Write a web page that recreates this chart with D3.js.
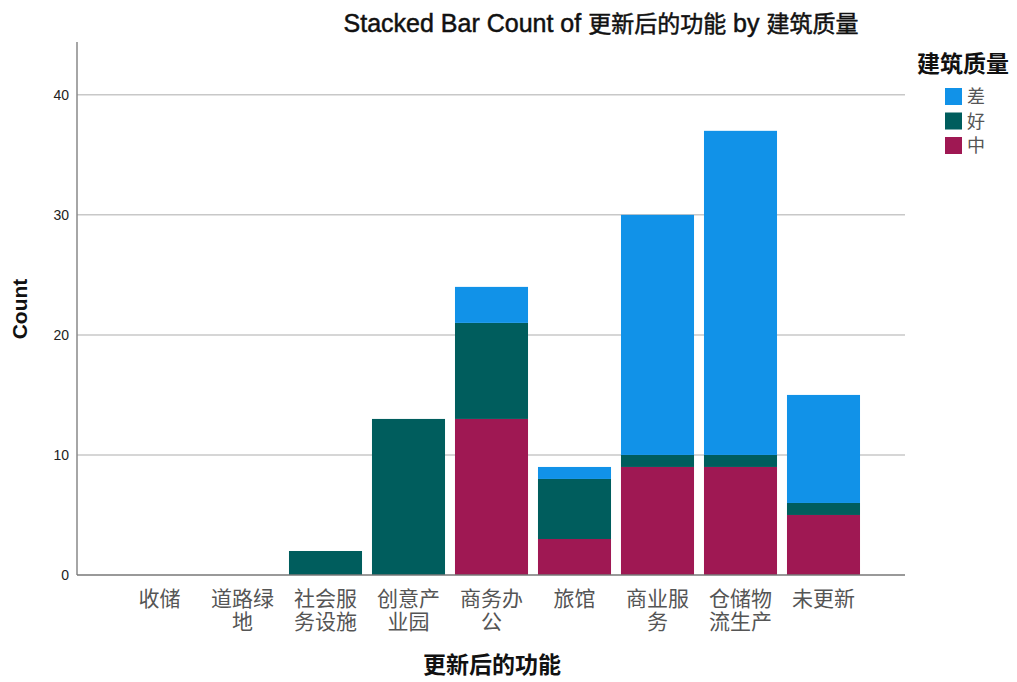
<!DOCTYPE html>
<html>
<head>
<meta charset="utf-8">
<script src="https://cdn.jsdelivr.net/npm/d3@7"></script>
<style>
  body { margin: 0; background: #fff; }
  text { font-family: "Liberation Sans", Arial, "Noto Sans CJK SC", sans-serif; }
</style>
</head>
<body>
<div id="chart"></div>
<script>
// dimensions
const width = 1017;
const height = 682;

// données
const categories = ["收储", "道路绿地", "社会服务设施", "创意产业园", "商务办公", "旅馆", "商业服务", "仓储物流生产", "未更新"];
const catLines = [["收储"], ["道路绿", "地"], ["社会服", "务设施"], ["创意产", "业园"], ["商务办", "公"], ["旅馆"], ["商业服", "务"], ["仓储物", "流生产"], ["未更新"]];
const qualities = ["中", "好", "差"];        // ordre d'empilement (bas -> haut)
const legendOrder = ["差", "好", "中"];
const colors = ["#9f1853", "#005d5d", "#1192e8"];
const countZhong = [0, 0, 0, 0, 13, 3, 9, 9, 5];
const countHao   = [0, 0, 2, 13, 8, 5, 1, 1, 1];
const countCha   = [0, 0, 0, 0, 3, 1, 20, 27, 9];
const yTicks = [0, 10, 20, 30, 40];

const table = categories.map((c, i) => ({ cat: c, "中": countZhong[i], "好": countHao[i], "差": countCha[i] }));

const margin = { left: 77, right: 905, top: 42, bottom: 575 };

const svg = d3.select("#chart").append("svg")
    .attr("width", width)
    .attr("height", height);

const x = d3.scaleBand()
    .domain(categories)
    .range([118, 865])
    .paddingInner(0.12)
    .paddingOuter(0.06);

const y = d3.scaleLinear()
    .domain([0, 44.4])
    .range([margin.bottom, margin.top]);

const color = d3.scaleOrdinal().domain(qualities).range(colors);

// grille
svg.append("g")
    .selectAll("line")
    .data(yTicks.filter(d => d > 0))
    .join("line")
    .attr("x1", margin.left).attr("x2", margin.right)
    .attr("y1", d => y(d)).attr("y2", d => y(d))
    .attr("stroke", "#c8c8c8")
    .attr("stroke-width", 1.5);

// barres empilées
const series = d3.stack().keys(qualities)(table);

svg.append("g")
    .selectAll("g")
    .data(series)
    .join("g")
    .attr("fill", d => color(d.key))
    .selectAll("rect")
    .data(d => d.filter(s => s[1] - s[0] > 0))
    .join("rect")
    .attr("x", d => x(d.data.cat))
    .attr("width", x.bandwidth())
    .attr("y", d => y(d[1]))
    .attr("height", d => y(d[0]) - y(d[1]));

// axe Y
const yAxis = svg.append("g")
    .attr("transform", `translate(${margin.left},0)`)
    .call(d3.axisLeft(y).tickValues(yTicks).tickSize(0).tickPadding(8));
yAxis.select(".domain").attr("stroke", "#888").attr("stroke-width", 1.5)
    .attr("d", `M0,${margin.top}V${margin.bottom}`);
yAxis.selectAll("text").attr("font-size", 14).attr("fill", "#222");

// axe X
svg.append("line")
    .attr("x1", margin.left).attr("x2", margin.right)
    .attr("y1", margin.bottom).attr("y2", margin.bottom)
    .attr("stroke", "#777").attr("stroke-width", 1.5);

// étiquettes des catégories, une ligne = un texte
const labelRows = categories.flatMap((c, i) => catLines[i].map((t, j) => ({ cat: c, text: t, row: j })));

svg.append("g")
    .selectAll("text")
    .data(labelRows)
    .join("text")
    .attr("x", d => x(d.cat) + x.bandwidth() / 2)
    .attr("y", d => 606 + d.row * 23)
    .attr("text-anchor", "middle")
    .attr("font-size", 21)
    .attr("fill", "#555")
    .style("font-family", "'Noto Sans CJK SC', sans-serif")
    .text(d => d.text);

// titres
const title = svg.append("text")
    .attr("x", 601).attr("y", 32)
    .attr("text-anchor", "middle")
    .attr("fill", "#111")
    .attr("stroke", "#111")
    .attr("stroke-width", 0.5);
[["Stacked Bar Count of ", 25], ["更新后的功能", 23], [" by ", 25], ["建筑质量", 23]].forEach(([t, s]) => {
    title.append("tspan").attr("font-size", s).text(t);
});

svg.append("text")
    .attr("x", 492).attr("y", 673)
    .attr("text-anchor", "middle")
    .attr("font-size", 23)
    .attr("font-weight", "bold")
    .attr("fill", "#111")
    .text("更新后的功能");

svg.append("text")
    .attr("transform", "translate(27,309) rotate(-90)")
    .attr("text-anchor", "middle")
    .attr("font-size", 21)
    .attr("font-weight", "bold")
    .attr("fill", "#111")
    .text("Count");

// légende
svg.append("text")
    .attr("x", 917).attr("y", 72)
    .attr("font-size", 23)
    .attr("font-weight", "bold")
    .attr("fill", "#111")
    .text("建筑质量");

const legend = svg.append("g")
    .selectAll("g")
    .data(legendOrder)
    .join("g")
    .attr("transform", (d, i) => `translate(945,${88 + i * 24.5})`);

legend.append("rect")
    .attr("width", 17).attr("height", 17)
    .attr("fill", d => color(d));

legend.append("text")
    .attr("x", 22).attr("y", 15)
    .attr("font-size", 18)
    .attr("fill", "#555")
    .style("font-family", "'Noto Sans CJK SC', sans-serif")
    .text(d => d);
</script>
</body>
</html>
